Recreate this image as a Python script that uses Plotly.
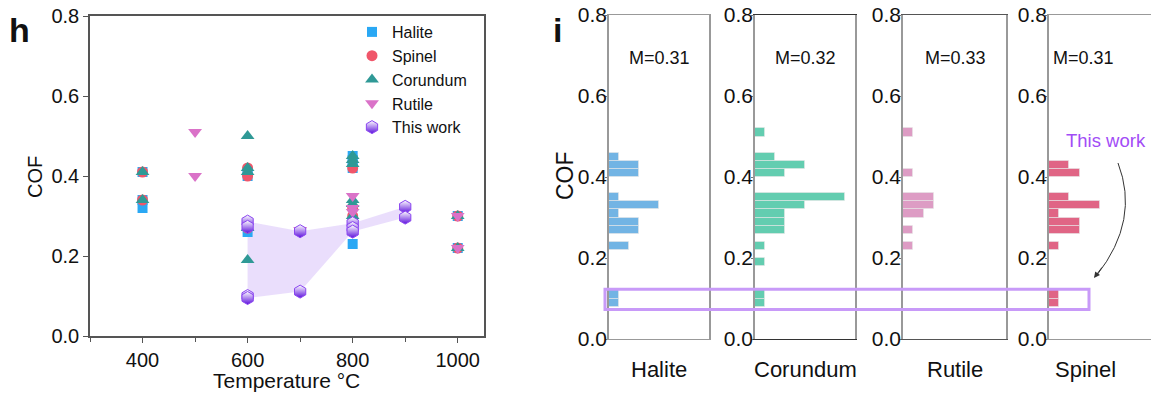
import plotly.graph_objects as go
import numpy as np

# ---------------- data: panel h (scatter) ----------------
halite_T = [400, 400, 400, 600, 600, 600, 800, 800, 800, 800, 1000, 1000]
halite_COF = [0.41, 0.34, 0.32, 0.41, 0.40, 0.26, 0.45, 0.44, 0.42, 0.23, 0.30, 0.22]

spinel_T = [400, 400, 600, 600, 600, 800, 800, 800, 1000, 1000]
spinel_COF = [0.41, 0.34, 0.42, 0.40, 0.27, 0.42, 0.32, 0.30, 0.30, 0.22]

corundum_T = [400, 400, 600, 600, 600, 600, 600, 800, 800, 800, 800, 800, 800, 1000, 1000]
corundum_COF = [0.41, 0.34, 0.50, 0.42, 0.41, 0.27, 0.19, 0.45, 0.44, 0.43, 0.34, 0.33, 0.30, 0.30, 0.22]

rutile_T = [500, 500, 700, 800, 800, 800, 1000, 1000]
rutile_COF = [0.51, 0.40, 0.265, 0.35, 0.32, 0.31, 0.30, 0.22]

this_T = [600, 600, 600, 600, 700, 700, 800, 800, 800, 900, 900]
this_COF = [0.286, 0.273, 0.10, 0.095, 0.262, 0.111, 0.282, 0.27, 0.261, 0.323, 0.296]

# ---------------- data: panel i (histograms, bin lower edge, counts) ----------------
bin_width = 0.02
halite_bins = [0.08, 0.10, 0.22, 0.26, 0.28, 0.30, 0.32, 0.34, 0.40, 0.42, 0.44]
halite_counts = [1, 1, 2, 3, 3, 1, 5, 1, 3, 3, 1]
corundum_bins = [0.08, 0.10, 0.18, 0.22, 0.26, 0.28, 0.30, 0.32, 0.34, 0.40, 0.42, 0.44, 0.50]
corundum_counts = [1, 1, 1, 1, 3, 3, 3, 5, 9, 3, 5, 2, 1]
rutile_bins = [0.22, 0.26, 0.30, 0.32, 0.34, 0.40, 0.50]
rutile_counts = [1, 1, 2, 3, 3, 1, 1]
spinel_bins = [0.08, 0.10, 0.22, 0.26, 0.28, 0.30, 0.32, 0.34, 0.40, 0.42]
spinel_counts = [1, 1, 1, 3, 3, 1, 5, 2, 3, 2]

hist_names = ["Halite", "Corundum", "Rutile", "Spinel"]
hist_means = ["M=0.31", "M=0.32", "M=0.33", "M=0.31"]
hist_bins = [halite_bins, corundum_bins, rutile_bins, spinel_bins]
hist_counts = [halite_counts, corundum_counts, rutile_counts, spinel_counts]
hist_colors = ["#72b4e4", "#63cdb0", "#dd9cc4", "#e06585"]
highlight_range = [0.073, 0.123]

W, H = 1151, 393
FONT = "Arial, Liberation Sans, sans-serif"


def px(x):
    return x / W


def py(y):
    return 1 - y / H


fig = go.Figure()

# shaded band for "this work"
temps = sorted(set(this_T))
upper = [max(c for t, c in zip(this_T, this_COF) if t == T) for T in temps]
lower = [min(c for t, c in zip(this_T, this_COF) if t == T) for T in temps]
fig.add_trace(go.Scatter(
    x=temps + temps[::-1], y=upper + lower[::-1], fill="toself",
    fillcolor="rgba(220,200,250,0.6)", line=dict(width=0), mode="lines",
    showlegend=False, hoverinfo="skip", xaxis="x", yaxis="y"))

fig.add_trace(go.Scatter(x=halite_T, y=halite_COF, mode="markers", name="Halite",
                         marker=dict(symbol="square", size=10, color="#2aa8f4"), xaxis="x", yaxis="y"))
fig.add_trace(go.Scatter(x=spinel_T, y=spinel_COF, mode="markers", name="Spinel",
                         marker=dict(symbol="circle", size=11, color="#f0566a"), xaxis="x", yaxis="y"))
fig.add_trace(go.Scatter(x=corundum_T, y=corundum_COF, mode="markers", name="Corundum",
                         marker=dict(symbol="triangle-up", size=12, color="#2f9996"), xaxis="x", yaxis="y"))
fig.add_trace(go.Scatter(x=rutile_T, y=rutile_COF, mode="markers", name="Rutile",
                         marker=dict(symbol="triangle-down", size=12, color="#da72c8"), xaxis="x", yaxis="y"))
fig.add_trace(go.Scatter(x=this_T, y=this_COF, mode="markers", name="This work",
                         marker=dict(symbol="hexagon", size=13, color="#ffffff",
                                     gradient=dict(type="vertical", color="#5c0fdc"),
                                     line=dict(color="#8a45f0", width=1)),
                         xaxis="x", yaxis="y"))

# histogram panels
hist_dom_x = [(609, 709), (755, 855), (903, 1006), (1049, 1151)]
hist_line = ["#999999", "#333333", "#555555", "#999999"]
for i in range(4):
    ax = i + 2
    centers = [b + bin_width / 2 for b in hist_bins[i]]
    fig.add_trace(go.Bar(
        y=centers, x=hist_counts[i], orientation="h", width=bin_width,
        marker=dict(color=hist_colors[i], line=dict(color="rgba(230,230,230,0.6)", width=1)),
        showlegend=False, xaxis=f"x{ax}", yaxis=f"y{ax}"))

axis_line = "#555555"
layout = dict(
    width=W, height=H, margin=dict(l=0, r=0, t=0, b=0, autoexpand=False),
    plot_bgcolor="white", paper_bgcolor="white",
    font=dict(family=FONT, color="#111111"),
    bargap=0,
    xaxis=dict(domain=[px(90), px(484)], range=[300, 1050], tickvals=[400, 600, 800, 1000],
               ticks="outside", ticklen=5, tickcolor=axis_line, showline=True, linecolor=axis_line,
               linewidth=1.5, mirror=True, showgrid=False, zeroline=False, automargin=False,
               tickfont=dict(size=20),
               minor=dict(tickvals=[300, 500, 700, 900], ticks="outside", ticklen=4, tickcolor=axis_line),
               anchor="y"),
    yaxis=dict(domain=[py(336), py(16)], range=[0, 0.8], tickvals=[0, 0.2, 0.4, 0.6, 0.8],
               tickformat=".1f", ticks="outside", ticklen=5, tickcolor=axis_line, showline=True,
               linecolor=axis_line, linewidth=1.5, mirror=True, showgrid=False, zeroline=False,
               automargin=False, tickfont=dict(size=20), anchor="x"),
    legend=dict(x=px(352), y=py(15), xanchor="left", yanchor="top", bgcolor="rgba(0,0,0,0)",
                font=dict(size=16), tracegroupgap=0, itemwidth=30),
)
for i in range(4):
    ax = i + 2
    x0, x1 = hist_dom_x[i]
    layout[f"xaxis{ax}"] = dict(domain=[px(x0), px(x1)], range=[0, 10], showticklabels=False,
                                ticks="", showline=True, linecolor=hist_line[i], linewidth=1, mirror=True,
                                showgrid=False, zeroline=False, automargin=False, anchor=f"y{ax}")
    layout[f"yaxis{ax}"] = dict(domain=[py(339), py(15)], range=[0, 0.8],
                                tickvals=[0, 0.2, 0.4, 0.6, 0.8], tickformat=".1f",
                                ticks="outside", ticklen=2, tickcolor="#777777",
                                ticklabelstandoff=-6,
                                showline=True, linecolor="#999999", linewidth=1.5,
                                mirror=(i < 3),
                                showgrid=False, zeroline=False, automargin=False,
                                tickfont=dict(size=21), anchor=f"x{ax}")
fig.update_layout(**layout)

annotations = [
    dict(text="<b>h</b>", x=px(19), y=py(30), font=dict(size=34)),
    dict(text="<b>i</b>", x=px(557), y=py(30), font=dict(size=34)),
    dict(text="COF", x=px(35), y=py(177), textangle=-90, font=dict(size=20)),
    dict(text="Temperature °C", x=px(286), y=py(380), font=dict(size=21)),
    dict(text="COF", x=px(565), y=py(176), textangle=-90, font=dict(size=23)),
    dict(text="This work", x=px(1106), y=py(140), font=dict(size=18.5, color="#a24cf6")),
]
mean_x = [659, 805, 955, 1083]
name_x = [659, 805, 955, 1085]
for i in range(4):
    annotations.append(dict(text=hist_means[i], x=px(mean_x[i]), y=py(58), font=dict(size=18)))
    annotations.append(dict(text=hist_names[i], x=px(name_x[i]), y=py(369), font=dict(size=22)))
for a in annotations:
    a.setdefault("xref", "paper")
    a.setdefault("yref", "paper")
    a.setdefault("xanchor", "center")
    a.setdefault("yanchor", "middle")
    a.setdefault("showarrow", False)
    fig.add_annotation(**a)

# arrowhead for the curved arrow
fig.add_annotation(x=px(1094), y=py(278), xref="paper", yref="paper", text="", showarrow=True,
                   ax=9, ay=-12, arrowhead=2, arrowsize=1.2, arrowwidth=1, arrowcolor="#333333")

shapes = [
    # highlight rectangle across histogram panels
    dict(type="rect", xref="paper", yref="y2", x0=px(605), x1=px(1089),
         y0=highlight_range[0], y1=highlight_range[1],
         line=dict(color="#c89af8", width=3), fillcolor="rgba(0,0,0,0)"),
    # curved arrow
    dict(type="path", xref="paper", yref="paper",
         path=f"M {px(1118)},{py(163)} Q {px(1140)},{py(220)} {px(1097)},{py(275)}",
         line=dict(color="#333333", width=1)),
]
for s in shapes:
    fig.add_shape(**s)

fig.write_html("out.html")
